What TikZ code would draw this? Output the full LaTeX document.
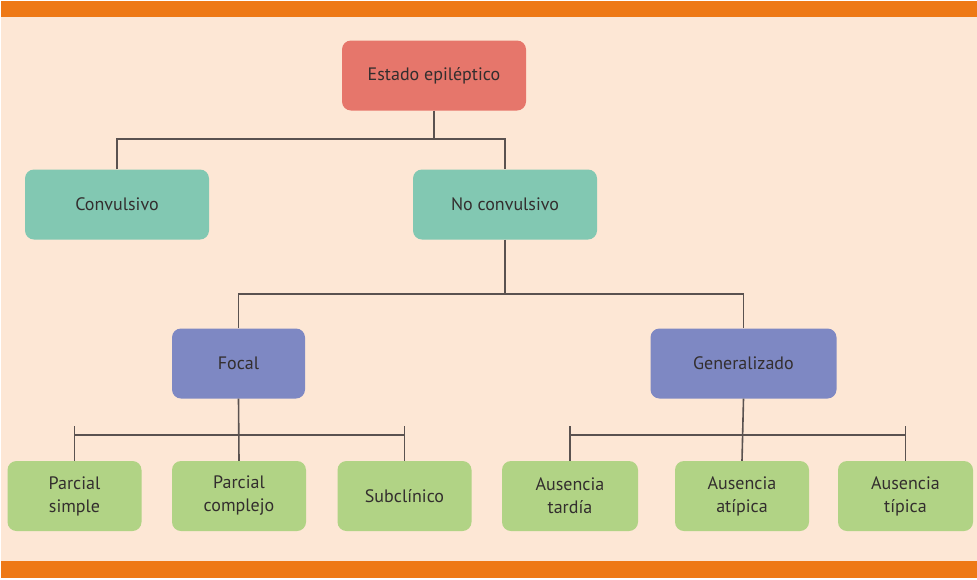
\documentclass[tikz,border=0pt]{standalone}
\usepackage{fontspec}
\setmainfont{PT Sans}
\definecolor{bgpeach}{HTML}{FDE7D5}
\definecolor{barorange}{HTML}{EE7916}
\definecolor{boxred}{HTML}{E6766B}
\definecolor{boxteal}{HTML}{82C8B2}
\definecolor{boxblue}{HTML}{7E88C3}
\definecolor{boxgreen}{HTML}{B1D385}
\definecolor{txtgray}{HTML}{332E2E}
\definecolor{linegray}{HTML}{5A5250}
\tikzset{
  box/.style={rounded corners=9pt, inner sep=2pt, align=center, text=txtgray,
    font=\fontsize{18}{23}\selectfont, minimum height=70pt},
  redbox/.style={box, fill=boxred, minimum width=184pt},
  tealbox/.style={box, fill=boxteal, minimum width=184pt},
  bluebox/.style={box, fill=boxblue},
  greenbox/.style={box, fill=boxgreen, minimum width=134pt},
  conn/.style={draw=linegray, line width=1.6pt}
}
\begin{document}
\begin{tikzpicture}[x=1pt,y=-1pt]
\useasboundingbox (0,0) rectangle (977,579);
\fill[white] (0,0) rectangle (977,579);
\fill[bgpeach] (1,1) rectangle (977,578);
\fill[barorange] (1,1) rectangle (977,17);
\fill[barorange] (1,561) rectangle (977,578);

\node[redbox] (root) at (434,75.5) {Estado epiléptico};
\node[tealbox] (conv) at (117,204.5) {Convulsivo};
\node[tealbox] (noconv) at (505,204.5) {No convulsivo};
\node[bluebox, minimum width=133pt] (focal) at (238.5,363.5) {Focal};
\node[bluebox, minimum width=186pt] (gen) at (743.5,363.5) {Generalizado};
\node[greenbox] (ps) at (74.5,496) {Parcial\\simple};
\node[greenbox] (pc) at (239,496) {Parcial\\complejo};
\node[greenbox] (sub) at (404.5,496) {Subclínico};
\node[greenbox, minimum width=136pt] (at) at (570,496) {Ausencia\\tardía};
\node[greenbox] (aa) at (742,496) {Ausencia\\atípica};
\node[greenbox, minimum width=135pt] (ati) at (905.5,496) {Ausencia\\típica};

\draw[conn] (root.south) -- ++(0,28.5) coordinate (j1);
\draw[conn] (conv.north) |- (j1) -| (noconv.north);
\draw[conn] (noconv.south) -- ++(0,54.5) coordinate (j2);
\draw[conn] (focal.north) |- (j2) -| (gen.north);

\draw[conn] (focal.south) -- (pc.north);
\draw[conn] (ps.north) -- ++(0,-35) coordinate (t1);
\draw[conn] (sub.north) -- ++(0,-35) coordinate (t2);
\draw[conn] ([yshift=26pt]ps.north) -- ([yshift=26pt]sub.north);

\draw[conn] (gen.south) -- (aa.north);
\draw[conn] (at.north) -- ++(0,-35) coordinate (t3);
\draw[conn] (ati.north) -- ++(0,-35) coordinate (t4);
\draw[conn] ([yshift=26pt]at.north) -- ([yshift=26pt]ati.north);
\end{tikzpicture}
\end{document}
